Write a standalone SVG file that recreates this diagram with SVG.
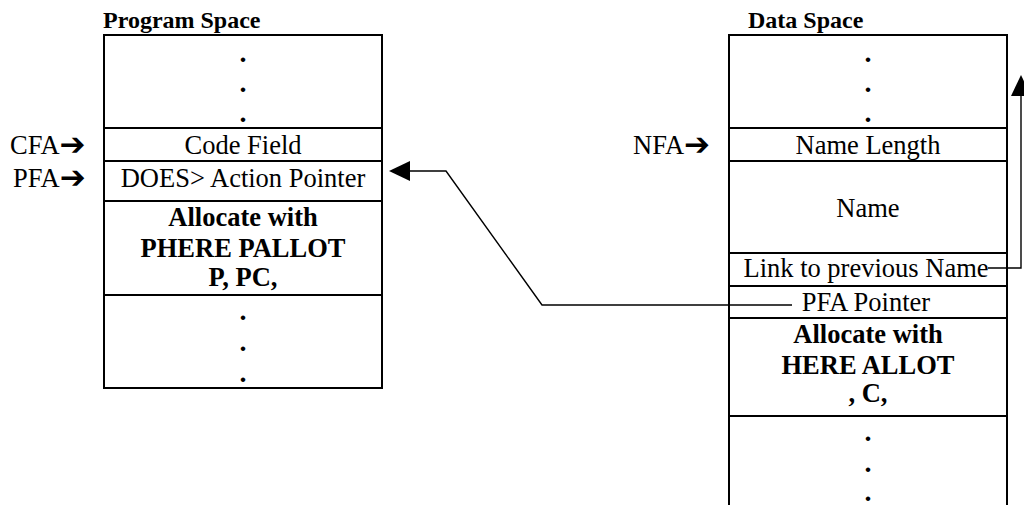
<svg xmlns="http://www.w3.org/2000/svg" width="1024" height="505" viewBox="0 0 1024 505">
<style>
.t{font-family:"Liberation Serif","Times New Roman",serif;font-size:26.5px;fill:#000}
.c{text-anchor:middle}
.b{font-weight:bold}
.d{font-family:"Liberation Serif","Times New Roman",serif;font-size:28px;font-weight:bold;text-anchor:middle;fill:#000}
.h{font-family:"Liberation Serif","Times New Roman",serif;font-size:24px;font-weight:bold;fill:#000}
.ar{font-family:"DejaVu Sans",sans-serif;font-size:31px;font-weight:bold}
.box{fill:none;stroke:#000;stroke-width:2}
.conn{fill:none;stroke:#000;stroke-width:1.4}
</style>
<rect width="1024" height="505" fill="#fff"/>
<g id="program-space">
<text class="h" x="103" y="28">Program Space</text>
<rect class="box" x="104" y="35" width="278" height="353"/>
<line class="box" x1="104" y1="128" x2="382" y2="128"/>
<line class="box" x1="104" y1="161" x2="382" y2="161"/>
<line class="box" x1="104" y1="201" x2="382" y2="201"/>
<line class="box" x1="104" y1="295" x2="382" y2="295"/>
<text class="d" x="243" y="62">.</text>
<text class="d" x="243" y="92">.</text>
<text class="d" x="243" y="122">.</text>
<text class="t c" x="243" y="154">Code Field</text>
<text class="t c" x="243" y="187">DOES&gt; Action Pointer</text>
<text class="t c b" x="243" y="226">Allocate with</text>
<text class="t c b" x="243" y="257">PHERE PALLOT</text>
<text class="t c b" x="243" y="286">P, PC,</text>
<text class="d" x="243" y="320">.</text>
<text class="d" x="243" y="351">.</text>
<text class="d" x="243" y="382">.</text>
</g>
<g id="cfa-label"><text class="t" x="10" y="154">CFA<tspan class="ar" dy="1">➔</tspan></text></g>
<g id="pfa-label"><text class="t" x="13" y="187">PFA<tspan class="ar" dy="1">➔</tspan></text></g>
<g id="data-space">
<text class="h" x="748" y="28">Data Space</text>
<path class="box" d="M729,506 V35 H1007 V506"/>
<line class="box" x1="729" y1="128" x2="1007" y2="128"/>
<line class="box" x1="729" y1="161" x2="1007" y2="161"/>
<line class="box" x1="729" y1="253" x2="1007" y2="253"/>
<line class="box" x1="729" y1="286" x2="1007" y2="286"/>
<line class="box" x1="729" y1="318" x2="1007" y2="318"/>
<line class="box" x1="729" y1="416" x2="1007" y2="416"/>
<text class="d" x="868" y="62">.</text>
<text class="d" x="868" y="92">.</text>
<text class="d" x="868" y="122">.</text>
<text class="t c" x="868" y="154">Name Length</text>
<text class="t c" x="868" y="217">Name</text>
<text class="t c" x="866" y="277">Link to previous Name</text>
<text class="t c" x="866" y="311">PFA Pointer</text>
<text class="t c b" x="868" y="343">Allocate with</text>
<text class="t c b" x="868" y="374">HERE ALLOT</text>
<text class="t c b" x="868" y="402">, C,</text>
<text class="d" x="868" y="441">.</text>
<text class="d" x="868" y="472">.</text>
<text class="d" x="868" y="501">.</text>
</g>
<g id="nfa-label"><text class="t" x="633" y="154">NFA<tspan class="ar" dy="1">➔</tspan></text></g>
<g id="connectors">
<polyline class="conn" points="792,305 542,305 446,171 408,171"/>
<polygon points="389,171 410,161 410,181" fill="#000"/>
<polyline class="conn" points="988,268 1021,268 1021,94"/>
<polygon points="1021,75 1011,96 1031,96" fill="#000"/>
</g>
</svg>
